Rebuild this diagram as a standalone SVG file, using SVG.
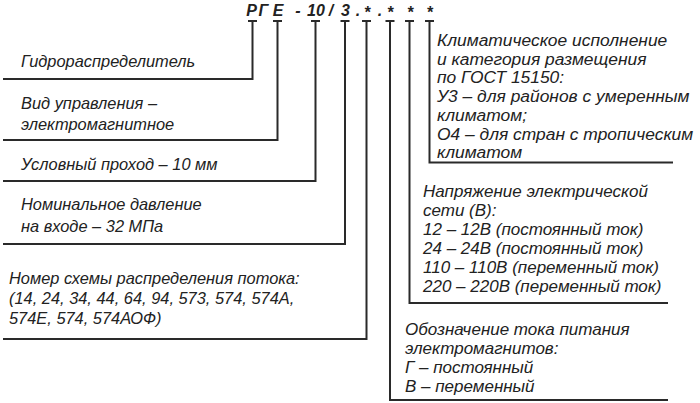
<svg xmlns="http://www.w3.org/2000/svg" width="700" height="403" viewBox="0 0 700 403">
<style>
  .bg { fill: #ffffff; }
  .ln { fill: none; stroke: #2a2a2a; stroke-width: 2; }
  .t { font-family: "Liberation Sans", Arial, sans-serif; font-style: italic; font-size: 16.4px; fill: #222222; }
  .r { font-size: 17px; }
  .k { font-size: 17.4px; }
  .h { font-family: "Liberation Sans", Arial, sans-serif; font-style: italic; font-weight: bold; font-size: 16px; fill: #222222; text-anchor: middle; }
</style>
<rect class="bg" x="0" y="0" width="700" height="403"/>
<g id="code">
  <text class="h" x="251.5" y="16">Р</text>
  <text class="h" x="263.5" y="16">Г</text>
  <text class="h" x="278" y="16">Е</text>
  <text class="h" x="298" y="16">-</text>
  <text class="h" x="316" y="16">10</text>
  <text class="h" x="331" y="16">/</text>
  <text class="h" x="345.5" y="16">3</text>
  <text class="h" x="358" y="16">.</text>
  <text class="h" x="367" y="18">*</text>
  <text class="h" x="380" y="16">.</text>
  <text class="h" x="390" y="18">*</text>
  <text class="h" x="410" y="18">*</text>
  <text class="h" x="429.5" y="18">*</text>
</g>
<g id="connectors">
  <path class="ln" d="M248,21 H257 M252.5,21 V79 H3"/>
  <path class="ln" d="M273,21 H282 M277.5,21 V140 H3"/>
  <path class="ln" d="M311,21 H320 M315.5,21 V181 H3"/>
  <path class="ln" d="M340.5,21 H349.5 M345,21 V244 H3"/>
  <path class="ln" d="M362,21 H371 M366.5,21 V339 H3"/>
  <path class="ln" d="M385.5,21 H394.5 M390,21 V400 H668"/>
  <path class="ln" d="M405,21 H414 M409.5,21 V303 H668"/>
  <path class="ln" d="M425,21 H434 M429.5,21 V162.5 H673"/>
</g>
<g id="n1">
  <text class="t" x="21" y="66.5">Гидрораспределитель</text>
</g>
<g id="n2">
  <text class="t" x="21" y="108.5">Вид управления –</text>
  <text class="t" x="21" y="129.5">электромагнитное</text>
</g>
<g id="n3">
  <text class="t" x="21" y="170">Условный проход – 10 мм</text>
</g>
<g id="n4">
  <text class="t" x="21" y="210">Номинальное давление</text>
  <text class="t" x="21" y="232">на входе – 32 МПа</text>
</g>
<g id="n5">
  <text class="t" x="9" y="284">Номер схемы распределения потока:</text>
  <text class="t" x="9" y="304">(14, 24, 34, 44, 64, 94, 573, 574, 574А,</text>
  <text class="t" x="9" y="324">574Е, 574, 574АОФ)</text>
</g>
<g id="n6">
  <text class="t r" x="405" y="335">Обозначение тока питания</text>
  <text class="t r" x="405" y="354">электромагнитов:</text>
  <text class="t r" x="405" y="373">Г – постоянный</text>
  <text class="t r" x="405" y="392">В – переменный</text>
</g>
<g id="n7">
  <text class="t r" x="423" y="197">Напряжение электрической</text>
  <text class="t r" x="423" y="216">сети (В):</text>
  <text class="t r" x="423" y="235">12 – 12В (постоянный ток)</text>
  <text class="t r" x="423" y="254">24 – 24В (постоянный ток)</text>
  <text class="t r" x="423" y="273">110 – 110В (переменный ток)</text>
  <text class="t r" x="423" y="292">220 – 220В (переменный ток)</text>
</g>
<g id="n8">
  <text class="t k" x="437" y="46">Климатическое исполнение</text>
  <text class="t k" x="437" y="64.7">и категория размещения</text>
  <text class="t k" x="437" y="83.4">по ГОСТ 15150:</text>
  <text class="t k" x="437" y="102.1">У3 – для районов с умеренным</text>
  <text class="t k" x="437" y="120.8">климатом;</text>
  <text class="t k" x="437" y="139.5">О4 – для стран с тропическим</text>
  <text class="t k" x="437" y="158.2">климатом</text>
</g>
</svg>
